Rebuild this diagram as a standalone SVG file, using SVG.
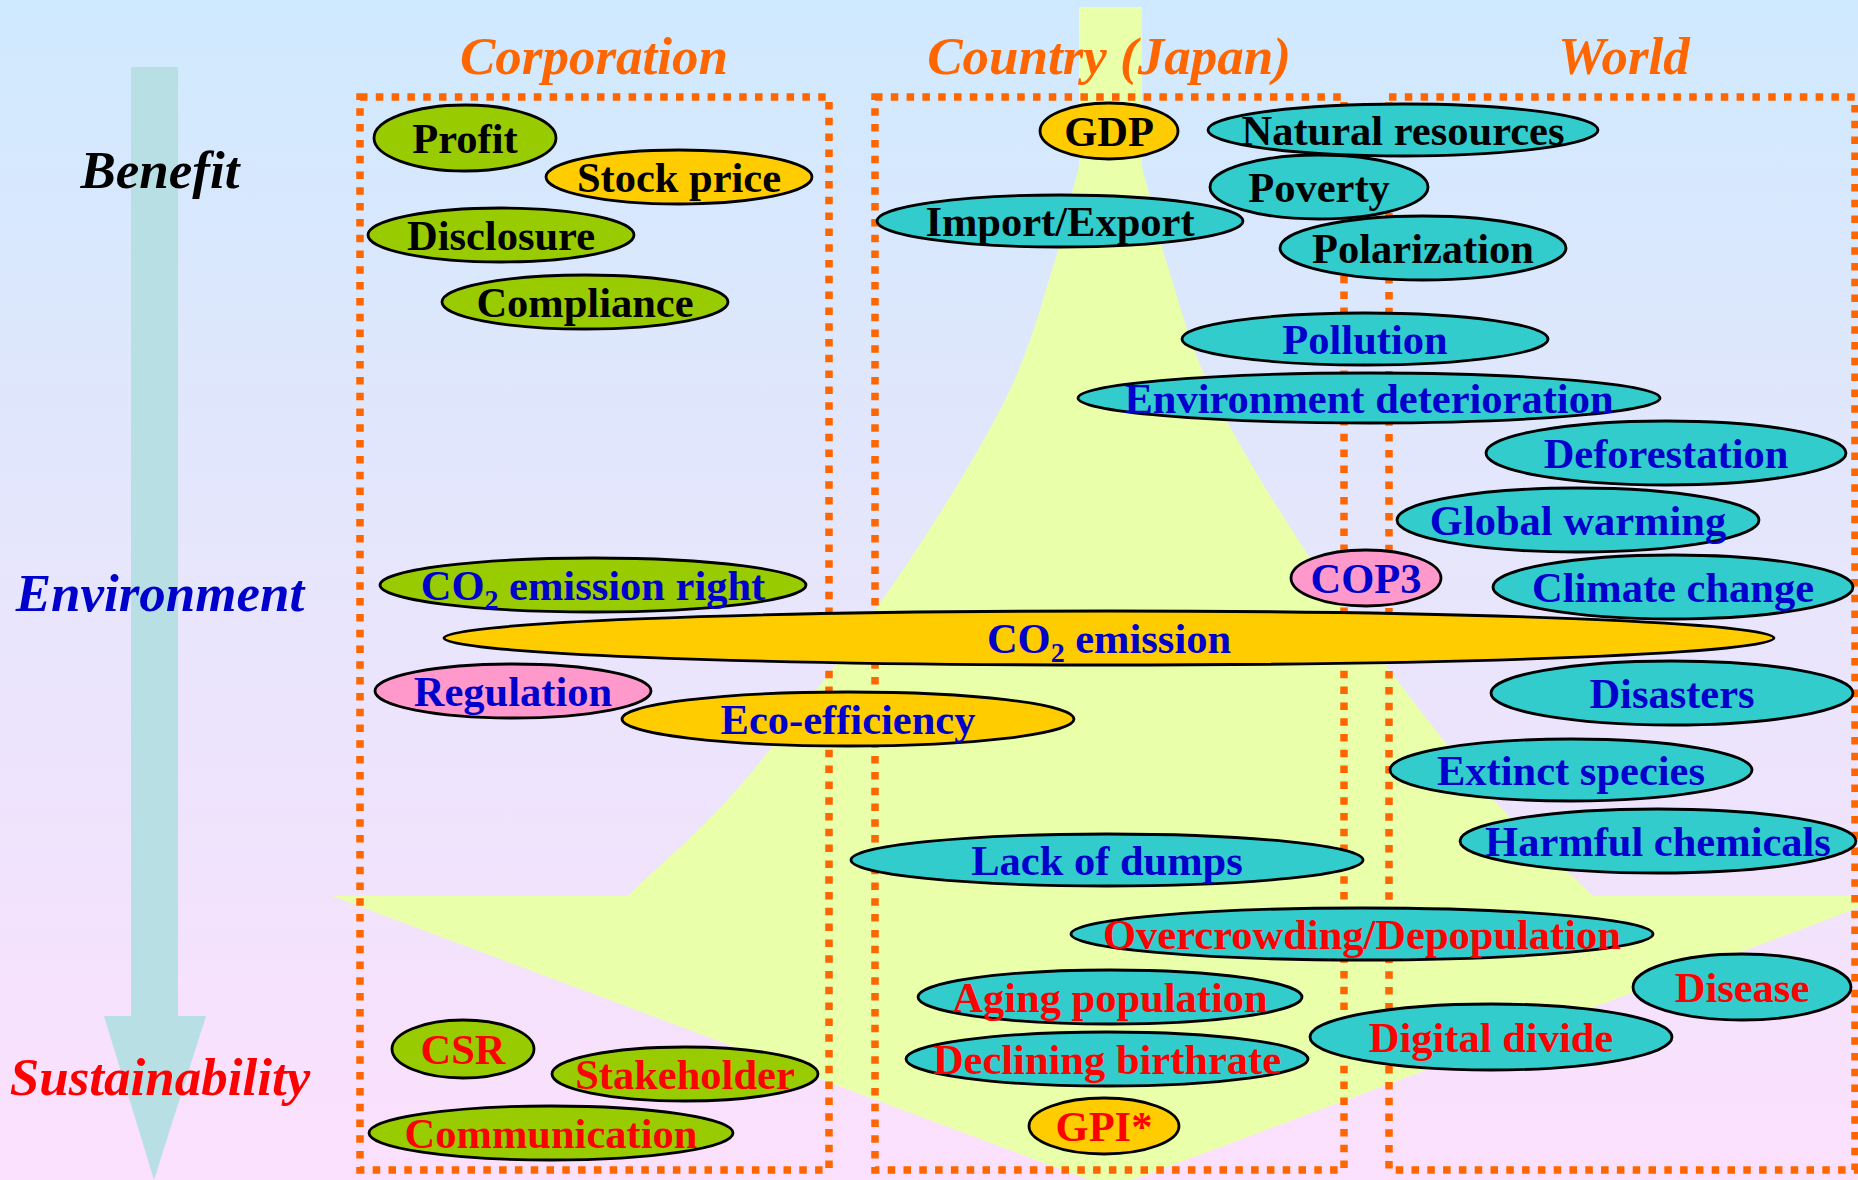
<svg xmlns="http://www.w3.org/2000/svg" width="1858" height="1180" viewBox="0 0 1858 1180">
<defs>
<linearGradient id="bg" x1="0" y1="0" x2="0" y2="1">
<stop offset="0" stop-color="#CFE9FE"/>
<stop offset="0.45" stop-color="#E5E6FC"/>
<stop offset="1" stop-color="#FCE0FD"/>
</linearGradient>
<style>
.box{fill:none;stroke:#FF6600;stroke-width:7.5;stroke-dasharray:7.5 8.3}
ellipse{stroke:#000;stroke-width:2.8}
.g{fill:#99CC00}.y{fill:#FFCC00}.t{fill:#33CCCC}.p{fill:#FF99CC}
text{font-family:"Liberation Serif","Times New Roman",serif;font-weight:bold}
.n{font-size:42.5px;text-anchor:middle}
.h{font-size:53px;font-style:italic;text-anchor:middle}
.k{fill:#000}.b{fill:#0000CC}.r{fill:#FF0000}.o{fill:#FF6600}
</style>
</defs>
<rect x="0" y="0" width="1858" height="1180" fill="url(#bg)"/>
<g id="axis-arrow">
<rect x="131" y="67" width="47" height="950" fill="#B8E0E4"/>
<polygon points="104,1016 206,1016 154,1180" fill="#B8E0E4"/>
</g>
<path id="funnel" fill="#EAFFAA" d="M1079,7 L1079,165 C1077.8,174.3 1076.3,176 1072,193 C1067.7,210 1064.2,232.5 1053,267 C1041.8,301.5 1031.2,347.8 1005,400 C978.8,452.2 939.3,516.7 896,580 C852.7,643.3 789.7,727.3 745,780 C700.3,832.7 667,857.3 628,896 L332,896 L1111,1188 L1890,896 L1593,896 C1554,857.3 1520.7,832.7 1476,780 C1431.3,727.3 1368.3,643.3 1325,580 C1281.7,516.7 1242.2,452.2 1216,400 C1189.8,347.8 1179.2,301.5 1168,267 C1156.8,232.5 1153.3,210 1149,193 C1144.7,176 1143.2,174.3 1142,165 L1142,7 Z"/>
<g id="boxes">
<rect class="box" x="360" y="97" width="469" height="1073"/>
<rect class="box" x="875" y="97" width="469" height="1073"/>
<rect class="box" x="1389" y="97" width="466" height="1073"/>
</g>
<g id="headers">
<text class="h o" x="594" y="74">Corporation</text>
<text class="h o" x="1109" y="74">Country (Japan)</text>
<text class="h o" x="1624" y="74">World</text>
<text class="h k" x="160" y="188">Benefit</text>
<text class="h b" x="160" y="611">Environment</text>
<text class="h r" x="160" y="1095">Sustainability</text>
</g>
<g id="connectors"></g>
<g id="n-profit"><ellipse class="g" cx="465" cy="138" rx="91" ry="33"/><text class="n k" x="465" y="153">Profit</text></g>
<g id="n-stock"><ellipse class="y" cx="679" cy="177" rx="133" ry="27"/><text class="n k" x="679" y="192">Stock price</text></g>
<g id="n-disclosure"><ellipse class="g" cx="501" cy="235" rx="133" ry="27"/><text class="n k" x="501" y="250">Disclosure</text></g>
<g id="n-compliance"><ellipse class="g" cx="585" cy="302" rx="143" ry="27"/><text class="n k" x="585" y="317">Compliance</text></g>
<g id="n-co2right"><ellipse class="g" cx="593" cy="585" rx="213" ry="27"/><text class="n b" x="593" y="600">CO<tspan font-size="28" dy="9">2</tspan><tspan dy="-9"> emission right</tspan></text></g>
<g id="n-regulation"><ellipse class="p" cx="513" cy="691" rx="138" ry="27"/><text class="n b" x="513" y="706">Regulation</text></g>
<g id="n-eco"><ellipse class="y" cx="848" cy="719" rx="226" ry="27"/><text class="n b" x="848" y="734">Eco-efficiency</text></g>
<g id="n-csr"><ellipse class="g" cx="463" cy="1049" rx="71" ry="29"/><text class="n r" x="463" y="1064">CSR</text></g>
<g id="n-stakeholder"><ellipse class="g" cx="685" cy="1074" rx="133" ry="27"/><text class="n r" x="685" y="1089">Stakeholder</text></g>
<g id="n-communication"><ellipse class="g" cx="551" cy="1133" rx="182" ry="27"/><text class="n r" x="551" y="1148">Communication</text></g>
<g id="n-gdp"><ellipse class="y" cx="1109" cy="131" rx="69" ry="28"/><text class="n k" x="1109" y="146">GDP</text></g>
<g id="n-importexport"><ellipse class="t" cx="1060" cy="221" rx="183" ry="26"/><text class="n k" x="1060" y="236">Import/Export</text></g>
<g id="n-natural"><ellipse class="t" cx="1403" cy="130" rx="195" ry="26"/><text class="n k" x="1403" y="145">Natural resources</text></g>
<g id="n-poverty"><ellipse class="t" cx="1319" cy="187" rx="109" ry="32"/><text class="n k" x="1319" y="202">Poverty</text></g>
<g id="n-polarization"><ellipse class="t" cx="1423" cy="248" rx="143" ry="32"/><text class="n k" x="1423" y="263">Polarization</text></g>
<g id="n-pollution"><ellipse class="t" cx="1365" cy="339" rx="183" ry="26"/><text class="n b" x="1365" y="354">Pollution</text></g>
<g id="n-envdet"><ellipse class="t" cx="1369" cy="398" rx="291" ry="25"/><text class="n b" x="1369" y="413">Environment deterioration</text></g>
<g id="n-deforestation"><ellipse class="t" cx="1666" cy="453" rx="180" ry="32"/><text class="n b" x="1666" y="468">Deforestation</text></g>
<g id="n-warming"><ellipse class="t" cx="1578" cy="520" rx="181" ry="32"/><text class="n b" x="1578" y="535">Global warming</text></g>
<g id="n-cop3"><ellipse class="p" cx="1366" cy="578" rx="75" ry="28"/><text class="n b" x="1366" y="593">COP3</text></g>
<g id="n-climate"><ellipse class="t" cx="1673" cy="587" rx="180" ry="32"/><text class="n b" x="1673" y="602">Climate change</text></g>
<g id="n-co2"><ellipse class="y" cx="1109" cy="638" rx="665" ry="27"/><text class="n b" x="1109" y="653">CO<tspan font-size="28" dy="9">2</tspan><tspan dy="-9"> emission</tspan></text></g>
<g id="n-disasters"><ellipse class="t" cx="1672" cy="693" rx="181" ry="32"/><text class="n b" x="1672" y="708">Disasters</text></g>
<g id="n-extinct"><ellipse class="t" cx="1571" cy="770" rx="181" ry="31"/><text class="n b" x="1571" y="785">Extinct species</text></g>
<g id="n-harmful"><ellipse class="t" cx="1658" cy="841" rx="198" ry="32"/><text class="n b" x="1658" y="856">Harmful chemicals</text></g>
<g id="n-dumps"><ellipse class="t" cx="1107" cy="860" rx="256" ry="26"/><text class="n b" x="1107" y="875">Lack of dumps</text></g>
<g id="n-overcrowding"><ellipse class="t" cx="1362" cy="934" rx="291" ry="26"/><text class="n r" x="1362" y="949">Overcrowding/Depopulation</text></g>
<g id="n-disease"><ellipse class="t" cx="1742" cy="987" rx="109" ry="33"/><text class="n r" x="1742" y="1002">Disease</text></g>
<g id="n-aging"><ellipse class="t" cx="1110" cy="997" rx="192" ry="27"/><text class="n r" x="1110" y="1012">Aging population</text></g>
<g id="n-digital"><ellipse class="t" cx="1491" cy="1037" rx="181" ry="33"/><text class="n r" x="1491" y="1052">Digital divide</text></g>
<g id="n-birthrate"><ellipse class="t" cx="1107" cy="1059" rx="201" ry="27"/><text class="n r" x="1107" y="1074">Declining birthrate</text></g>
<g id="n-gpi"><ellipse class="y" cx="1104" cy="1126" rx="75" ry="28"/><text class="n r" x="1104" y="1141">GPI*</text></g>
</svg>
